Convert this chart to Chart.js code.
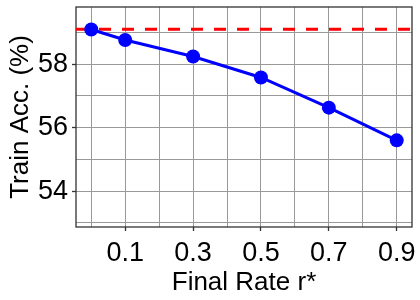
<!DOCTYPE html>
<html>
<head>
<meta charset="utf-8">
<script src="https://cdn.jsdelivr.net/npm/chart.js@4/dist/chart.umd.min.js"></script>
<style>
  html, body { margin: 0; padding: 0; background: #fff; }
  #wrap { width: 420px; height: 300px; }
</style>
</head>
<body>
<div id="wrap"><canvas id="accChart" width="420" height="300"></canvas></div>
<script>
// Data
const finalRates = [0, 0.1, 0.3, 0.5, 0.7, 0.9];
const trainAcc = [59.09, 58.76, 58.24, 57.58, 56.63, 55.6];
const baselineAcc = 59.1;

// Ticks / grid
const xGridTicks = [0, 0.1, 0.2, 0.3, 0.4, 0.5, 0.6, 0.7, 0.8, 0.9];
const xTickLabels = ['0.1', '0.3', '0.5', '0.7', '0.9'];
const yGridTicks = [53, 54, 55, 56, 57, 58, 59];
const yTickLabels = ['54', '56', '58'];
const xLimits = [-0.045, 0.945];
const yLimits = [52.87, 59.8];

const FONT = "'Liberation Sans', Arial, Helvetica, sans-serif";

// Draws the dark box around the plot area (like matplotlib spines)
const framePlugin = {
    id: 'frame',
    beforeDatasetsDraw(chart) {
        const { ctx, chartArea: a } = chart;
        ctx.save();
        ctx.strokeStyle = '#333';
        ctx.lineWidth = 1.3;
        ctx.strokeRect(a.left, a.top, a.right - a.left, a.bottom - a.top);
        ctx.restore();
    }
};

const isLabeled = (list, v, digits) => list.includes(Number(v).toFixed(digits));

new Chart(document.getElementById('accChart').getContext('2d'), {
    type: 'line',
    data: {
        datasets: [
            {
                label: 'Train Acc.',
                data: finalRates.map((r, i) => ({ x: r, y: trainAcc[i] })),
                borderColor: '#0000ff',
                backgroundColor: '#0000ff',
                borderWidth: 3,
                pointRadius: 7,
                pointBorderWidth: 0,
                pointBackgroundColor: '#0000ff',
                tension: 0,
                order: 0
            },
            {
                label: 'Baseline',
                data: xLimits.map(x => ({ x: x, y: baselineAcc })),
                borderColor: '#ff0000',
                borderWidth: 3,
                borderDash: [12, 11],
                borderCapStyle: 'butt',
                pointRadius: 0,
                order: 1
            }
        ]
    },
    options: {
        responsive: false,
        animation: false,
        devicePixelRatio: 1,
        layout: { padding: { top: 7, right: 8, left: 0, bottom: 0 } },
        plugins: {
            legend: { display: false },
            tooltip: { enabled: false }
        },
        scales: {
            x: {
                type: 'linear',
                min: xLimits[0],
                max: xLimits[1],
                afterBuildTicks: scale => { scale.ticks = xGridTicks.map(v => ({ value: v })); },
                afterFit: scale => {
                    scale.height = 73;
                    scale.paddingLeft = 0;
                    scale.paddingRight = 0;
                },
                border: { display: false },
                grid: {
                    color: '#999',
                    lineWidth: 1,
                    tickLength: 4,
                    tickWidth: 1.3,
                    tickColor: ctx => (ctx.tick && isLabeled(xTickLabels, ctx.tick.value, 1)) ? '#333' : 'rgba(0,0,0,0)'
                },
                ticks: {
                    autoSkip: false,
                    maxRotation: 0,
                    padding: 6,
                    color: '#000',
                    font: { family: FONT, size: 27 },
                    callback: v => isLabeled(xTickLabels, v, 1) ? Number(v).toFixed(1) : ''
                },
                title: {
                    display: true,
                    text: 'Final Rate r*',
                    color: '#000',
                    font: { family: FONT, size: 26 },
                    padding: { top: 0, bottom: 2 }
                }
            },
            y: {
                type: 'linear',
                min: yLimits[0],
                max: yLimits[1],
                afterBuildTicks: scale => { scale.ticks = yGridTicks.map(v => ({ value: v })); },
                afterFit: scale => {
                    scale.width = 76;
                    scale.paddingTop = 0;
                    scale.paddingBottom = 0;
                },
                border: { display: false },
                grid: {
                    color: '#999',
                    lineWidth: 1,
                    tickLength: 4,
                    tickWidth: 1.3,
                    tickColor: ctx => (ctx.tick && isLabeled(yTickLabels, ctx.tick.value, 0)) ? '#333' : 'rgba(0,0,0,0)'
                },
                ticks: {
                    autoSkip: false,
                    padding: 4,
                    color: '#000',
                    font: { family: FONT, size: 27 },
                    callback: v => isLabeled(yTickLabels, v, 0) ? Number(v).toFixed(0) : ''
                },
                title: {
                    display: true,
                    text: 'Train Acc. (%)',
                    color: '#000',
                    font: { family: FONT, size: 26 },
                    padding: { top: 5, bottom: 0 }
                }
            }
        }
    },
    plugins: [framePlugin]
});
</script>
</body>
</html>
